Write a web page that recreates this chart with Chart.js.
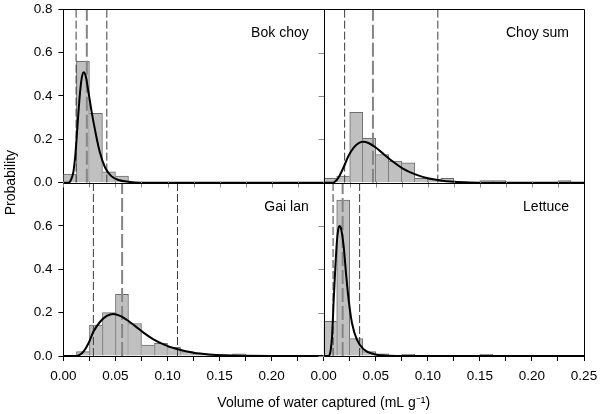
<!DOCTYPE html>
<html><head><meta charset="utf-8">
<script src="https://cdn.jsdelivr.net/npm/chart.js@4"></script>
<style>html,body{margin:0;padding:0;background:#fff}</style>
</head><body>
<canvas id="c" width="600" height="414"></canvas>
<script>
// ---------------- data ----------------
const panelNames = ['Bok choy', 'Choy sum', 'Gai lan', 'Lettuce'];
const binCenters = [0.00625,0.01875,0.03125,0.04375,0.05625,0.06875,0.08125,0.09375,0.10625,0.11875,
                    0.13125,0.14375,0.15625,0.16875,0.18125,0.19375,0.20625,0.21875,0.23125,0.24375];
const xTickValues = [0, 0.05, 0.10, 0.15, 0.20, 0.25];
const yTickValues = [0, 0.2, 0.4, 0.6, 0.8];

const bokChoyBars = [0.04,0.56,0.32,0.05,0.03,0,0,0,0,0,0,0,0,0,0,0,0,0,0,0];
const choySumBars = [0.02,0.03,0.325,0.205,0.13,0.10,0.092,0.02,0.015,0.02,0,0,0.01,0.01,0,0,0,0,0.01,0];
const gaiLanBars  = [0,0.02,0.143,0.2,0.285,0.15,0.05,0.058,0.04,0.02,0.01,0.005,0,0.01,0,0,0,0,0,0];
const lettuceBars = [0.16,0.72,0.08,0.02,0.01,0,0.008,0,0,0,0,0,0.008,0,0,0,0,0,0,0];

const bokChoyCurveX = [0,0.005,0.0075,0.0096,0.0115,0.0135,0.0155,0.0175,0.0195,0.0215,0.024,0.027,0.0305,0.035,0.04,0.046,0.053,0.062,0.075,0.25];
const bokChoyCurveY = [0,0,0.015,0.05,0.13,0.26,0.39,0.48,0.51,0.49,0.42,0.33,0.24,0.14,0.07,0.03,0.012,0.004,0,0];
const choySumCurveX = [0,0.009,0.012,0.015,0.019,0.024,0.029,0.034,0.038,0.043,0.05,0.058,0.067,0.076,0.088,0.1,0.112,0.125,0.14,0.16,0.25];
const choySumCurveY = [0,0,0.01,0.03,0.07,0.125,0.163,0.184,0.189,0.183,0.162,0.13,0.095,0.065,0.038,0.02,0.01,0.004,0.001,0,0];
const gaiLanCurveX = [0,0.013,0.0165,0.0192,0.024,0.0288,0.0353,0.0417,0.0481,0.0545,0.061,0.069,0.0769,0.0865,0.0962,0.109,0.125,0.14,0.155,0.175,0.2,0.25];
const gaiLanCurveY = [0,0,0.008,0.02,0.058,0.112,0.158,0.185,0.194,0.185,0.166,0.138,0.108,0.077,0.054,0.032,0.015,0.007,0.003,0.001,0,0];
const lettuceCurveX = [0,0.005,0.0068,0.008,0.0096,0.0112,0.0128,0.0142,0.0153,0.0166,0.0192,0.0217,0.024,0.0272,0.032,0.0383,0.0479,0.056,0.07,0.25];
const lettuceCurveY = [0,0,0.03,0.089,0.258,0.412,0.535,0.59,0.6,0.59,0.505,0.366,0.258,0.151,0.074,0.031,0.009,0.003,0,0];

// vertical reference lines: [lower, centre, upper]
const bokChoyLines = [0.0122, 0.0225, 0.0417];
const choySumLines = [0.0201, 0.0473, 0.1096];
const gaiLanLines  = [0.0288, 0.0564, 0.1096];
const lettuceLines = [0.009, 0.0182, 0.0345];

// ---------------- chart ----------------
const FONT = "'Liberation Sans', Arial, Helvetica, sans-serif";
const panels = [
  {name: panelNames[0], x: 'xL', y: 'yT', bars: bokChoyBars, cx: bokChoyCurveX, cy: bokChoyCurveY, lines: bokChoyLines},
  {name: panelNames[1], x: 'xR', y: 'yT', bars: choySumBars, cx: choySumCurveX, cy: choySumCurveY, lines: choySumLines},
  {name: panelNames[2], x: 'xL', y: 'yB', bars: gaiLanBars,  cx: gaiLanCurveX,  cy: gaiLanCurveY,  lines: gaiLanLines},
  {name: panelNames[3], x: 'xR', y: 'yB', bars: lettuceBars, cx: lettuceCurveX, cy: lettuceCurveY, lines: lettuceLines}
];

const datasets = [];
panels.forEach(p => {
  const vals = p.bars;
  datasets.push({
    type: 'bar', xAxisID: p.x, yAxisID: p.y, order: 3,
    data: binCenters.map((c, i) => ({x: c, y: vals[i]})),
    backgroundColor: '#c0c0c0', borderColor: '#6e6e6e',
    borderSkipped: false,
    borderWidth: ctx => {
      const i = ctx.dataIndex, v = vals[i];
      const prev = i > 0 ? vals[i - 1] : 0, next = i < vals.length - 1 ? vals[i + 1] : 0;
      return {top: 1, bottom: 0, left: prev <= v ? 1 : 0, right: next < v ? 1 : 0};
    },
    grouped: false, barPercentage: 1, categoryPercentage: 1
  });
  p.lines.forEach((v, k) => {
    const centre = k === 1;
    datasets.push({
      type: 'line', xAxisID: p.x, yAxisID: p.y, order: 2,
      data: [{x: v, y: 0}, {x: v, y: 0.8}],
      borderColor: centre ? '#858585' : '#3c3c3c',
      borderWidth: centre ? 2 : 1,
      borderDash: centre ? [14, 4] : [8, 3],
      pointRadius: 0, fill: false, tension: 0
    });
  });
  datasets.push({
    type: 'line', xAxisID: p.x, yAxisID: p.y, order: 1,
    data: p.cx.map((x, i) => ({x, y: p.cy[i]})),
    borderColor: '#000', borderWidth: 2, pointRadius: 0, fill: false,
    cubicInterpolationMode: 'monotone',
    clip: {left: 0, right: 0, top: 0, bottom: 2}
  });
});

const tickFont = {family: FONT, size: 13.5};
function isMajorX(v) { return xTickValues.some(t => Math.abs(t - v) < 1e-6); }
function xScale(showLast) {
  return {
    type: 'linear', position: 'bottom', stack: 'cols', stackWeight: 1,
    min: 0, max: 0.25, offset: false,
    ticks: {
      stepSize: 0.025, autoSkip: false, maxRotation: 0, minRotation: 0, padding: 7,
      color: '#000', font: tickFont,
      callback: v => (!isMajorX(v) || (!showLast && Math.abs(v - 0.25) < 1e-6)) ? '' : v.toFixed(2)
    },
    grid: {display: true, offset: false, drawOnChartArea: false, drawTicks: true, tickLength: 5, color: '#000', lineWidth: 1},
    border: {display: true, color: '#000', width: 1},
    afterFit: s => { s.height = 28; s.paddingLeft = 0; s.paddingRight = 0; }
  };
}
function yScale(showTop, weight) {
  return {
    type: 'linear', position: 'left', stack: 'rows', stackWeight: 1, weight,
    min: 0, max: 0.8,
    ticks: {
      stepSize: 0.2, padding: 6, color: '#000', font: tickFont,
      callback: v => (!showTop && Math.abs(v - yTickValues[4]) < 1e-6) ? '' : v.toFixed(1)
    },
    grid: {display: true, drawOnChartArea: false, drawTicks: true, tickLength: 5, color: '#000', lineWidth: 1},
    border: {display: true, color: '#000', width: 1},
    afterFit: s => { s.width = 44; s.paddingTop = 0; s.paddingBottom = 0; }
  };
}

const panelDecor = {
  id: 'panelDecor',
  afterDatasetsDraw(chart) {
    const {ctx, chartArea: ca, scales} = chart;
    const {xL, xR, yT, yB} = scales;
    const a = v => Math.round(v) + 0.5;
    const mid = yT.getPixelForValue(0);
    const cx = xR.getPixelForValue(0);
    ctx.save();
    // inner ticks
    ctx.strokeStyle = '#8a8a8a'; ctx.lineWidth = 1;
    ctx.beginPath();
    for (const sc of [xL, xR]) for (const t of sc.ticks) {
      const px = a(sc.getPixelForValue(t.value));
      ctx.moveTo(px, a(mid) - 2); ctx.lineTo(px, a(mid) + 4);
    }
    for (const sc of [yT, yB]) for (const t of sc.ticks) {
      const py = a(sc.getPixelForValue(t.value));
      ctx.moveTo(a(cx) - 6, py); ctx.lineTo(a(cx), py);
    }
    ctx.stroke();
    // frame
    ctx.strokeStyle = '#000';
    ctx.beginPath();
    ctx.moveTo(a(ca.left), a(ca.top)); ctx.lineTo(a(ca.right), a(ca.top)); ctx.lineTo(a(ca.right), a(ca.bottom));
    ctx.moveTo(a(ca.left), a(mid)); ctx.lineTo(a(ca.right), a(mid));
    ctx.moveTo(a(cx), a(ca.top)); ctx.lineTo(a(cx), a(ca.bottom));
    ctx.stroke();
    // panel names
    ctx.fillStyle = '#000';
    ctx.font = '14px ' + FONT;
    ctx.textAlign = 'right'; ctx.textBaseline = 'alphabetic';
    panels.forEach(p => {
      const xs = scales[p.x], ys = scales[p.y];
      ctx.fillText(p.name, xs.right - 15, ys.top + 28);
    });
    ctx.restore();
  }
};

new Chart(document.getElementById('c'), {
  type: 'bar',
  data: {datasets},
  options: {
    responsive: false, animation: false, events: [],
    layout: {padding: {left: 2.6, right: 16, top: 9.3, bottom: 2.8}},
    scales: {xL: xScale(false), xR: xScale(true), yT: yScale(true, 1), yB: yScale(false, 0)},
    plugins: {
      legend: {display: false}, tooltip: {enabled: false},
      title: {display: true, position: 'bottom', fullSize: false, text: 'Volume of water captured (mL g\u207B\u00B9)',
              color: '#000', font: {family: FONT, size: 14, weight: 'normal'}, padding: {top: 10.4, bottom: 0}},
      subtitle: {display: true, position: 'left', fullSize: false, text: 'Probability',
              color: '#000', font: {family: FONT, size: 14, weight: 'normal'}, padding: 0}
    }
  },
  plugins: [panelDecor]
});
</script>
</body></html>
